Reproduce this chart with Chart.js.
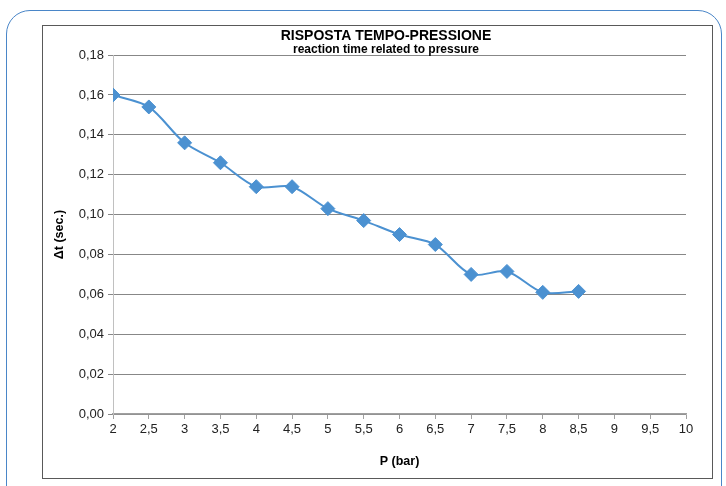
<!DOCTYPE html>
<html lang="it">

<head>
  <meta charset="UTF-8">
  <title>Risposta tempo-pressione</title>
  <script src="https://cdn.jsdelivr.net/npm/chart.js"></script>
  <style>
    body {
      margin: 0;
      width: 726px;
      height: 486px;
      overflow: hidden;
      background: #fff;
      font-family: "Liberation Sans", Arial, sans-serif;
      position: relative;
    }

    #frame {
      position: absolute;
      left: 6px;
      top: 10px;
      width: 714px;
      height: 500px;
      border: 1.5px solid #4a86c8;
      border-radius: 24px;
    }

    #box {
      position: absolute;
      left: 42px;
      top: 25px;
      width: 669px;
      height: 452px;
      border: 1px solid #595959;
    }

    #chart {
      position: absolute;
      left: 43px;
      top: 26px;
    }
  </style>
</head>

<body>
  <div id="frame"></div>
  <div id="box"></div>
  <canvas id="chart" width="686" height="452"></canvas>

  <script>
    // pressione (bar) e tempo di reazione (s)
    const pressure = [2, 2.5, 3, 3.5, 4, 4.5, 5, 5.5, 6, 6.5, 7, 7.5, 8, 8.5];
    const deltaT = [0.160, 0.154, 0.136, 0.126, 0.114, 0.114, 0.103, 0.097, 0.090, 0.085, 0.070, 0.0715, 0.061, 0.0615];

    const xMin = 2, xMax = 10, xStep = 0.5;
    const yMin = 0, yMax = 0.18, yStep = 0.02;

    const blue = '#4b91d1';
    const tickFont = { family: 'Liberation Sans', size: 13 };

    const points = pressure.map((p, i) => ({ x: p, y: deltaT[i] }));

    new Chart(document.getElementById('chart'), {
      type: 'line',
      data: {
        datasets: [{
          data: points,
          borderColor: blue,
          backgroundColor: blue,
          borderWidth: 2,
          tension: 0.3,
          pointStyle: 'rectRot',
          pointRadius: 7,
          pointBorderWidth: 1,
          fill: false
        }]
      },
      options: {
        responsive: false,
        animation: false,
        layout: { padding: 0 },
        plugins: {
          legend: { display: false },
          tooltip: { enabled: false },
          title: {
            display: true,
            text: 'RISPOSTA TEMPO-PRESSIONE',
            color: '#000',
            font: { family: 'Liberation Sans', size: 14, weight: 'bold', lineHeight: 1.2 },
            padding: { top: 1.5, bottom: 0 }
          },
          subtitle: {
            display: true,
            text: 'reaction time related to pressure',
            color: '#000',
            font: { family: 'Liberation Sans', size: 12, weight: 'bold', lineHeight: 0.9 },
            padding: { top: 0, bottom: 0 }
          }
        },
        scales: {
          x: {
            type: 'linear',
            min: xMin,
            max: xMax,
            afterFit: s => { s.height = 64; },
            ticks: {
              stepSize: xStep,
              autoSkip: false,
              maxRotation: 0,
              padding: 3,
              color: '#222',
              font: tickFont,
              callback: v => String(v).replace('.', ',')
            },
            grid: {
              drawOnChartArea: false,
              drawTicks: true,
              tickLength: 5,
              color: '#a0a0a0'
            },
            border: { color: '#a0a0a0', width: 1.5 },
            title: {
              display: true,
              text: 'P (bar)',
              color: '#000',
              font: { family: 'Liberation Sans', size: 12.5, weight: 'bold' },
              padding: { top: 0, bottom: 9 }
            }
          },
          y: {
            min: yMin,
            max: yMax,
            afterFit: s => { s.width = 70; },
            ticks: {
              stepSize: yStep,
              padding: 4,
              color: '#222',
              font: tickFont,
              callback: v => v.toFixed(2).replace('.', ',')
            },
            grid: {
              color: '#878787',
              lineWidth: 1,
              drawTicks: true,
              tickLength: 5
            },
            border: { color: '#c0c0c0', width: 1 },
            title: {
              display: true,
              text: 'Δt (sec.)',
              color: '#000',
              font: { family: 'Liberation Sans', size: 12.5, weight: 'bold' },
              padding: { top: 9, bottom: 0 }
            }
          },
          // empty right-hand gutter so the title centres on the whole canvas
          gutter: {
            position: 'right',
            min: yMin,
            max: yMax,
            afterFit: s => { s.width = 43; },
            ticks: { display: false },
            grid: { display: false },
            border: { display: false }
          }
        }
      }
    });
  </script>
</body>

</html>
